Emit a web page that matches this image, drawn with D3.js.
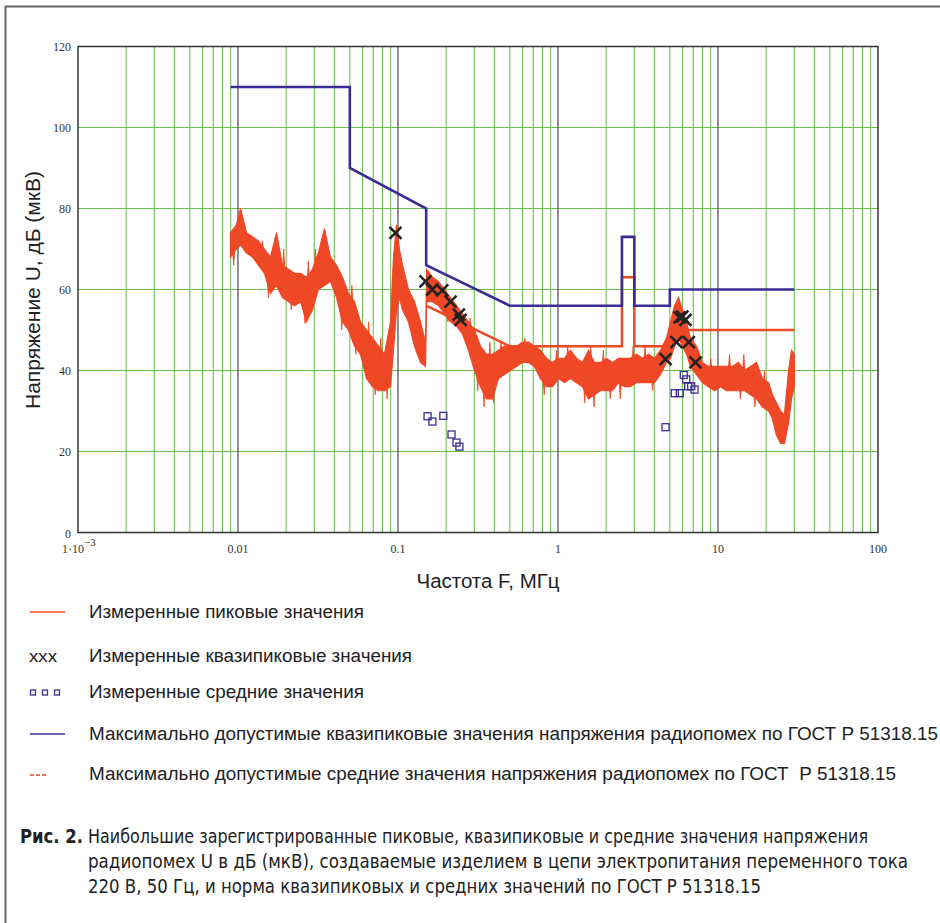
<!DOCTYPE html>
<html><head><meta charset="utf-8">
<script src="https://cdn.jsdelivr.net/npm/d3@7"></script>
<style>body{margin:0;background:#fff} svg{display:block}</style>
</head><body>
<script>
// ---- data (MHz, dB(мкВ)) ----
const peakFreq = [0.00897,0.00979,0.01037,0.0113,0.01232,0.01343,0.01464,0.01596,0.0174,0.01897,0.0207,0.02255,0.0246,0.0268,0.0292,0.0318,0.0347,0.0378,0.0413,0.045,0.049,0.0535,0.0583,0.0636,0.0693,0.0755,0.0823,0.0898,0.0937,0.0979,0.102,0.1067,0.1163,0.1268,0.1382,0.1486,0.151,0.1643,0.179,0.1953,0.2128,0.232,0.253,0.2758,0.3006,0.3278,0.3573,0.3895,0.4246,0.4629,0.5047,0.5502,0.5998,0.654,0.713,0.777,0.847,0.924,1.007,1.098,1.197,1.305,1.422,1.551,1.69,1.843,2.009,2.19,2.388,2.603,2.838,3.094,3.373,3.677,4.009,4.37,4.765,5.047,5.35,5.665,6.0,6.36,6.73,7.34,8.0,8.72,9.51,10.36,11.3,12.32,13.43,14.64,15.96,17.4,18.97,20.7,21.9,23.2,24.6,26.0,27.6,28.8,30.0];
const peakLow = [68,70,71,69,68,66,64,59,61,58,57,56,57,52,55,60,61,62,58,52,50,46,44,38,36,35,35,36,45,55,58,55,52,46,42,41,57,57,56,54,52,51,49,45,40,36,33,33,38,39,40,41,42,42,41,38,36,36,38,37,38,37,36,33,34,35,35,35,37,36,36,37,37,37,37,39,42,43,46,48,46,44,41,39,37,36,35,36,35,35,35,35,34,33,31,30,28,24,22,22,27,33,36];
const peakHigh = [74,76,80,74,73,72,70,68,74,66,65,64,64,63,65,69,75,68,66,63,59,57,52,50,48,46,44,52,68,76,70,66,60,57,52,47,65,63,62,60,58,56,54,52,50,46,44,44,45,46,46,46,47,47,46,45,43,42,43,43,45,43,42,45,42,42,43,42,43,43,43,44,43,44,43,45,48,52,56,58,55,52,48,46,42,41,41,41,41,41,42,40,41,42,38,37,34,32,30,29,40,45,44];
// narrow noise spikes
const spikeFreq = [0.0094,0.0142,0.0155,0.0193,0.0215,0.0262,0.0275,0.0305,0.0332,0.0445,0.0515,0.0545,0.0655,0.072,0.078,0.0855,0.172,0.205,0.282,0.315,0.345,0.375,0.395,0.44,0.62,0.82,0.98,1.15,1.47,1.6,1.68,1.92,2.12,2.45,2.95,3.5,3.9,9.0,11.8,13.8,14.5,17.0,19.5];
const spikeVal  = [66,72,58,70,55,51.6,67,70,72,50,61,44,52,34,48,33,57,52,53,35,31,47,32,47,48,34,45,46,32,46,31,45,33,33,46,46,35,43,44,33,44,31,40];

const qpLimFreq = [0.009,0.05,0.05,0.15,0.15,0.5,2.51,2.51,3.0,3.0,5,5,30];
const qpLimVal  = [110,110,90,80,66,56,56,73,73,56,56,60,60];
const avLimFreq = [0.15,0.5,2.51,2.51,3.0,3.0,5,5,30];
const avLimVal  = [56,46,46,63,63,46,46,50,50];

const qpMeasFreq = [0.0964,0.1486,0.1636,0.189,0.213,0.240,0.246,4.70,5.50,5.75,5.98,6.26,6.57,7.23];
const qpMeasVal  = [74,62,60,59.8,57,53.8,52.5,42.8,47,53.1,53.3,52.5,47,42];
const avMeasFreq = [0.153,0.164,0.192,0.216,0.232,0.242,4.70,5.37,5.77,6.11,6.33,6.51,6.80,7.13];
const avMeasVal  = [28.7,27.4,28.8,24.2,22.2,21.2,26,34.4,34.4,38.9,37.8,36.1,36.1,35.3];

const yTicks = [0,20,40,60,80,100,120];
const xDecades = [0.001,0.01,0.1,1,10,100];
const xTickLabels = ["1·10","0.01","0.1","1","10","100"];
const legendLabels = [
  "Измеренные пиковые значения",
  "Измеренные квазипиковые значения",
  "Измеренные средние значения",
  "Максимально допустимые квазипиковые значения напряжения радиопомех по ГОСТ Р 51318.15",
  "Максимально допустимые средние значения напряжения радиопомех по ГОСТ  Р 51318.15"
];
const captionLines = [
  "Наибольшие зарегистрированные пиковые, квазипиковые и средние значения напряжения",
  "радиопомех U в дБ (мкВ), создаваемые изделием в цепи электропитания переменного тока",
  "220 В, 50 Гц, и норма квазипиковых и средних значений по ГОСТ Р 51318.15"
];
const yTitle = "Напряжение U, дБ (мкВ)";
const xTitle = "Частота F, МГц";

// ---- drawing ----
const W = 940, H = 923;
const RED = "#ef4826", BLUE = "#3a2c94", GREEN = "#6cc24f";
const svg = d3.select("body").append("svg").attr("width", W).attr("height", H);

svg.append("rect").attr("x",5.5).attr("y",6.5).attr("width",960).attr("height",960)
  .attr("fill","none").attr("stroke","#666").attr("stroke-width",2);

const x = d3.scaleLog().domain([0.001,100]).range([78,878]);
const y = d3.scaleLinear().domain([0,120]).range([532.5,46.5]);

const g = svg.append("g");
const minors = [];
xDecades.slice(0,-1).forEach(d => { for (let k=2;k<=9;k++) minors.push(d*k); });
g.selectAll("line.vm").data(minors).join("line")
  .attr("x1",d=>x(d)).attr("x2",d=>x(d)).attr("y1",y(120)).attr("y2",y(0))
  .attr("stroke",GREEN).attr("stroke-width",1.1);
g.selectAll("line.hg").data(yTicks.slice(1,-1)).join("line")
  .attr("x1",x(0.001)).attr("x2",x(100)).attr("y1",d=>y(d)).attr("y2",d=>y(d))
  .attr("stroke",GREEN).attr("stroke-width",1.1);
g.selectAll("line.dec").data(xDecades.slice(1,-1)).join("line")
  .attr("x1",d=>x(d)).attr("x2",d=>x(d)).attr("y1",y(120)).attr("y2",y(0))
  .attr("stroke","#555").attr("stroke-width",1.3);
g.append("rect").attr("x",x(0.001)).attr("y",y(120)).attr("width",x(100)-x(0.001)).attr("height",y(0)-y(120))
  .attr("fill","none").attr("stroke","#333").attr("stroke-width",1.5);

const serif = "'Liberation Serif','Times New Roman',serif";
svg.selectAll("text.yt").data(yTicks).join("text")
  .attr("x",71).attr("y",d=>y(d)+ (d===0?5:4)).attr("text-anchor","end")
  .attr("font-family",serif).attr("font-size",12).attr("fill","#333").text(d=>d);
xTickLabels.forEach((t,i) => {
  const tx = svg.append("text").attr("y",553).attr("font-family",serif).attr("font-size",12).attr("fill","#333");
  if (i===0) {
    tx.attr("x",62).text(t);
    tx.append("tspan").attr("dy",-7).attr("font-size",11).text("−3");
  } else {
    tx.attr("x",x(xDecades[i])).attr("text-anchor","middle").text(t);
  }
});

const sans = "'Liberation Sans',Arial,sans-serif";
svg.append("text").attr("transform","translate(40,290) rotate(-90)").attr("text-anchor","middle")
  .attr("font-family",sans).attr("font-size",20).attr("fill","#222")
  .attr("textLength",238).attr("lengthAdjust","spacingAndGlyphs").text(yTitle);
svg.append("text").attr("x",488).attr("y",588).attr("text-anchor","middle")
  .attr("font-family",sans).attr("font-size",20).attr("fill","#222")
  .attr("textLength",143).attr("lengthAdjust","spacingAndGlyphs").text(xTitle);

// peak measured band
const peak = peakFreq.map((f,i)=>({f, lo:peakLow[i], hi:peakHigh[i]}));
g.append("path").datum(peak)
  .attr("d", d3.area().x(d=>x(d.f)).y0(d=>y(d.lo)).y1(d=>y(d.hi)))
  .attr("fill",RED).attr("stroke",RED).attr("stroke-width",1.2);
// spikes: triangle from band middle to spike value
const bis = d3.bisector(d=>d.f).left;
function mid(f){
  const i = Math.max(1, Math.min(peak.length-1, bis(peak,f)));
  const a = peak[i-1], b = peak[i];
  const t = (Math.log(f)-Math.log(a.f))/(Math.log(b.f)-Math.log(a.f));
  return ((a.lo+a.hi)/2)*(1-t) + ((b.lo+b.hi)/2)*t;
}
g.selectAll("path.sp").data(spikeFreq.map((f,i)=>[f,spikeVal[i]])).join("path")
  .attr("d",d=>{const cx=x(d[0]), m=y(mid(d[0])); return `M${cx-1.8},${m}L${cx},${y(d[1])}L${cx+1.8},${m}Z`;})
  .attr("fill",RED).attr("stroke",RED).attr("stroke-width",0.8);

const line = d3.line().x(d=>x(d[0])).y(d=>y(d[1]));
g.append("path").datum(avLimFreq.map((f,i)=>[f,avLimVal[i]])).attr("d",line)
  .attr("fill","none").attr("stroke",RED).attr("stroke-width",2.5);
g.append("path").datum(qpLimFreq.map((f,i)=>[f,qpLimVal[i]])).attr("d",line)
  .attr("fill","none").attr("stroke",BLUE).attr("stroke-width",2.6);

g.selectAll("rect.av").data(avMeasFreq.map((f,i)=>[f,avMeasVal[i]])).join("rect")
  .attr("x",d=>x(d[0])-3.5).attr("y",d=>y(d[1])-3.5).attr("width",7).attr("height",7)
  .attr("fill","none").attr("stroke",BLUE).attr("stroke-width",1.3);

const s = 6;
g.selectAll("path.qp").data(qpMeasFreq.map((f,i)=>[f,qpMeasVal[i]])).join("path")
  .attr("d",d=>{const cx=x(d[0]), cy=y(d[1]); return `M${cx-s},${cy-s}L${cx+s},${cy+s}M${cx-s},${cy+s}L${cx+s},${cy-s}`;})
  .attr("stroke","#222").attr("stroke-width",2.6).attr("fill","none");

// legend
const legY = [618,662,698,740,780];
const legW = [275,323,275,849,807];
svg.selectAll("text.leg").data(legendLabels).join("text")
  .attr("x",89).attr("y",(d,i)=>legY[i]).attr("font-family",sans).attr("font-size",18).attr("fill","#222")
  .attr("textLength",(d,i)=>legW[i]).attr("lengthAdjust","spacingAndGlyphs")
  .style("white-space","pre").text(d=>d);
svg.append("line").attr("x1",30).attr("x2",65).attr("y1",612).attr("y2",612).attr("stroke",RED).attr("stroke-width",1.3);
svg.append("text").attr("x",29).attr("y",662).attr("font-family",sans).attr("font-size",16).attr("fill","#222")
  .attr("textLength",28).attr("lengthAdjust","spacingAndGlyphs").text("xxx");
[33,45,57].forEach(cx => svg.append("rect").attr("x",cx-2.5).attr("y",690).attr("width",5).attr("height",5)
  .attr("fill","none").attr("stroke",BLUE).attr("stroke-width",1.3));
svg.append("line").attr("x1",30).attr("x2",65).attr("y1",734).attr("y2",734).attr("stroke",BLUE).attr("stroke-width",1.3);
svg.append("line").attr("x1",30).attr("x2",46).attr("y1",775).attr("y2",775).attr("stroke",RED).attr("stroke-width",1.3).attr("stroke-dasharray","4,2");

// caption
const cap = "'Liberation Sans Narrow','DejaVu Sans Condensed','Liberation Sans',sans-serif";
svg.append("text").attr("x",20).attr("y",843).attr("font-family",cap).attr("font-size",19).attr("font-weight","bold")
  .attr("fill","#222").attr("textLength",63).attr("lengthAdjust","spacingAndGlyphs").text("Рис. 2.");
const capX = [88,88,88], capY = [843,868,893], capW = [780,820,673];
svg.selectAll("text.cap").data(captionLines).join("text")
  .attr("x",(d,i)=>capX[i]).attr("y",(d,i)=>capY[i]).attr("font-family",cap).attr("font-size",19).attr("fill","#222")
  .attr("textLength",(d,i)=>capW[i]).attr("lengthAdjust","spacingAndGlyphs").text(d=>d);
</script>
</body></html>
